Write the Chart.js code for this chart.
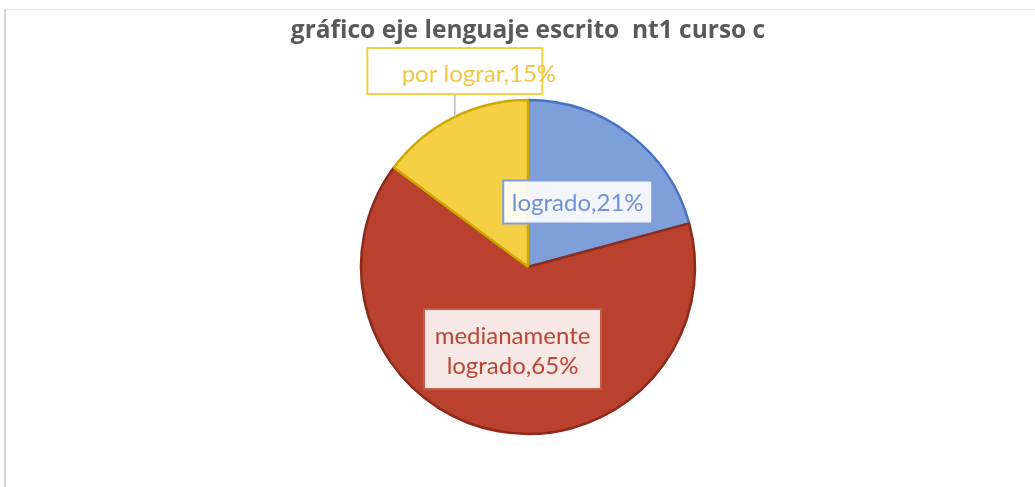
<!DOCTYPE html>
<html lang="es">
<head>
  <meta charset="UTF-8">
  <title>gráfico eje lenguaje escrito nt1 curso c</title>
  <script src="https://cdn.jsdelivr.net/npm/chart.js"></script>
  <style>
    body {
      margin: 0;
      background: #fff;
    }
    .marco {
      position: absolute;
      left: 4px;
      top: 9px;
      width: 1031px;
      height: 478px;
      border-left: 2px solid #d4d4d4;
      border-top: 1px solid #e6e6e6;
    }
    canvas {
      position: absolute;
      left: 0;
      top: 0;
    }
  </style>
</head>
<body>
  <div class="marco"></div>
  <canvas id="grafico" width="1035" height="487"></canvas>

  <script>
    // datos del eje lenguaje escrito
    const niveles = ['logrado', 'medianamente logrado', 'por lograr'];
    const porcentajes = [21, 65, 15];
    const colores = ['#7f9fda', '#b9412e', '#f5cf44'];
    const bordes = ['#4472c4', '#8c2a1c', '#cfa800'];

    // estilo de cada etiqueta (posición sobre el ángulo medio del sector)
    const estiloEtiquetas = [
      { dist: 0.49, dx: 0, dy: 0, ancho: 149, alto: 43, lineas: ['logrado,21%'], tx: 0, ty: 1,
        fondo: 'rgba(255,255,255,0.9)', borde: '#7f9fda', texto: '#6f92d4' },
      { dist: 0.5, dx: 0, dy: 0, ancho: 177, alto: 80, lineas: ['medianamente', 'logrado,65%'], tx: 0, ty: 2,
        fondo: 'rgba(255,255,255,0.88)', borde: '#c45a4a', texto: '#bb4535' },
      { dist: 1.24, dx: 20, dy: -11, ancho: 175, alto: 46, lineas: ['por lograr,15%'], tx: 24, ty: 3,
        fondo: 'rgba(255,255,255,0)', borde: '#f5cf44', texto: '#f2c744', guia: true }
    ];

    const etiquetas = {
      id: 'etiquetas',
      afterDatasetsDraw(chart) {
        const ctx = chart.ctx;
        const arcos = chart.getDatasetMeta(0).data;
        ctx.save();
        ctx.font = '24px Lato';
        ctx.textAlign = 'center';
        ctx.textBaseline = 'middle';
        arcos.forEach((arco, i) => {
          const e = estiloEtiquetas[i];
          const medio = (arco.startAngle + arco.endAngle) / 2;
          const cx = arco.x + Math.cos(medio) * arco.outerRadius * e.dist + e.dx;
          const cy = arco.y + Math.sin(medio) * arco.outerRadius * e.dist + e.dy;
          const x0 = cx - e.ancho / 2;
          const y0 = cy - e.alto / 2;

          if (e.guia) {
            // línea guía vertical hasta el borde del sector
            const gx = cx;
            const gy = arco.y - Math.sqrt(arco.outerRadius * arco.outerRadius - (gx - arco.x) * (gx - arco.x));
            ctx.strokeStyle = '#bfbfbf';
            ctx.lineWidth = 1.5;
            ctx.beginPath();
            ctx.moveTo(gx, y0 + e.alto);
            ctx.lineTo(gx, gy);
            ctx.stroke();
          }

          ctx.fillStyle = e.fondo;
          ctx.fillRect(x0, y0, e.ancho, e.alto);
          ctx.strokeStyle = e.borde;
          ctx.lineWidth = 2;
          ctx.strokeRect(x0, y0, e.ancho, e.alto);

          ctx.fillStyle = e.texto;
          const paso = 30;
          e.lineas.forEach((l, k) => {
            const ly = cy + e.ty + (k - (e.lineas.length - 1) / 2) * paso;
            ctx.fillText(l, cx + e.tx, ly);
          });
        });
        ctx.restore();
      }
    };

    new Chart(document.getElementById('grafico'), {
      type: 'pie',
      data: {
        labels: niveles,
        datasets: [{
          data: porcentajes,
          backgroundColor: colores,
          borderColor: bordes,
          borderWidth: 2.5,
          radius: 167
        }]
      },
      options: {
        responsive: false,
        animation: false,
        layout: { padding: { top: 5, bottom: 52, left: 21, right: 0 } },
        plugins: {
          legend: { display: false },
          tooltip: { enabled: false },
          title: {
            display: true,
            text: 'gráfico eje lenguaje escrito  nt1 curso c',
            color: '#595959',
            font: { family: 'Open Sans', size: 24.5, weight: 'bold' },
            padding: { top: 11, bottom: 53.6 }
          }
        }
      },
      plugins: [etiquetas]
    });
  </script>
</body>
</html>
